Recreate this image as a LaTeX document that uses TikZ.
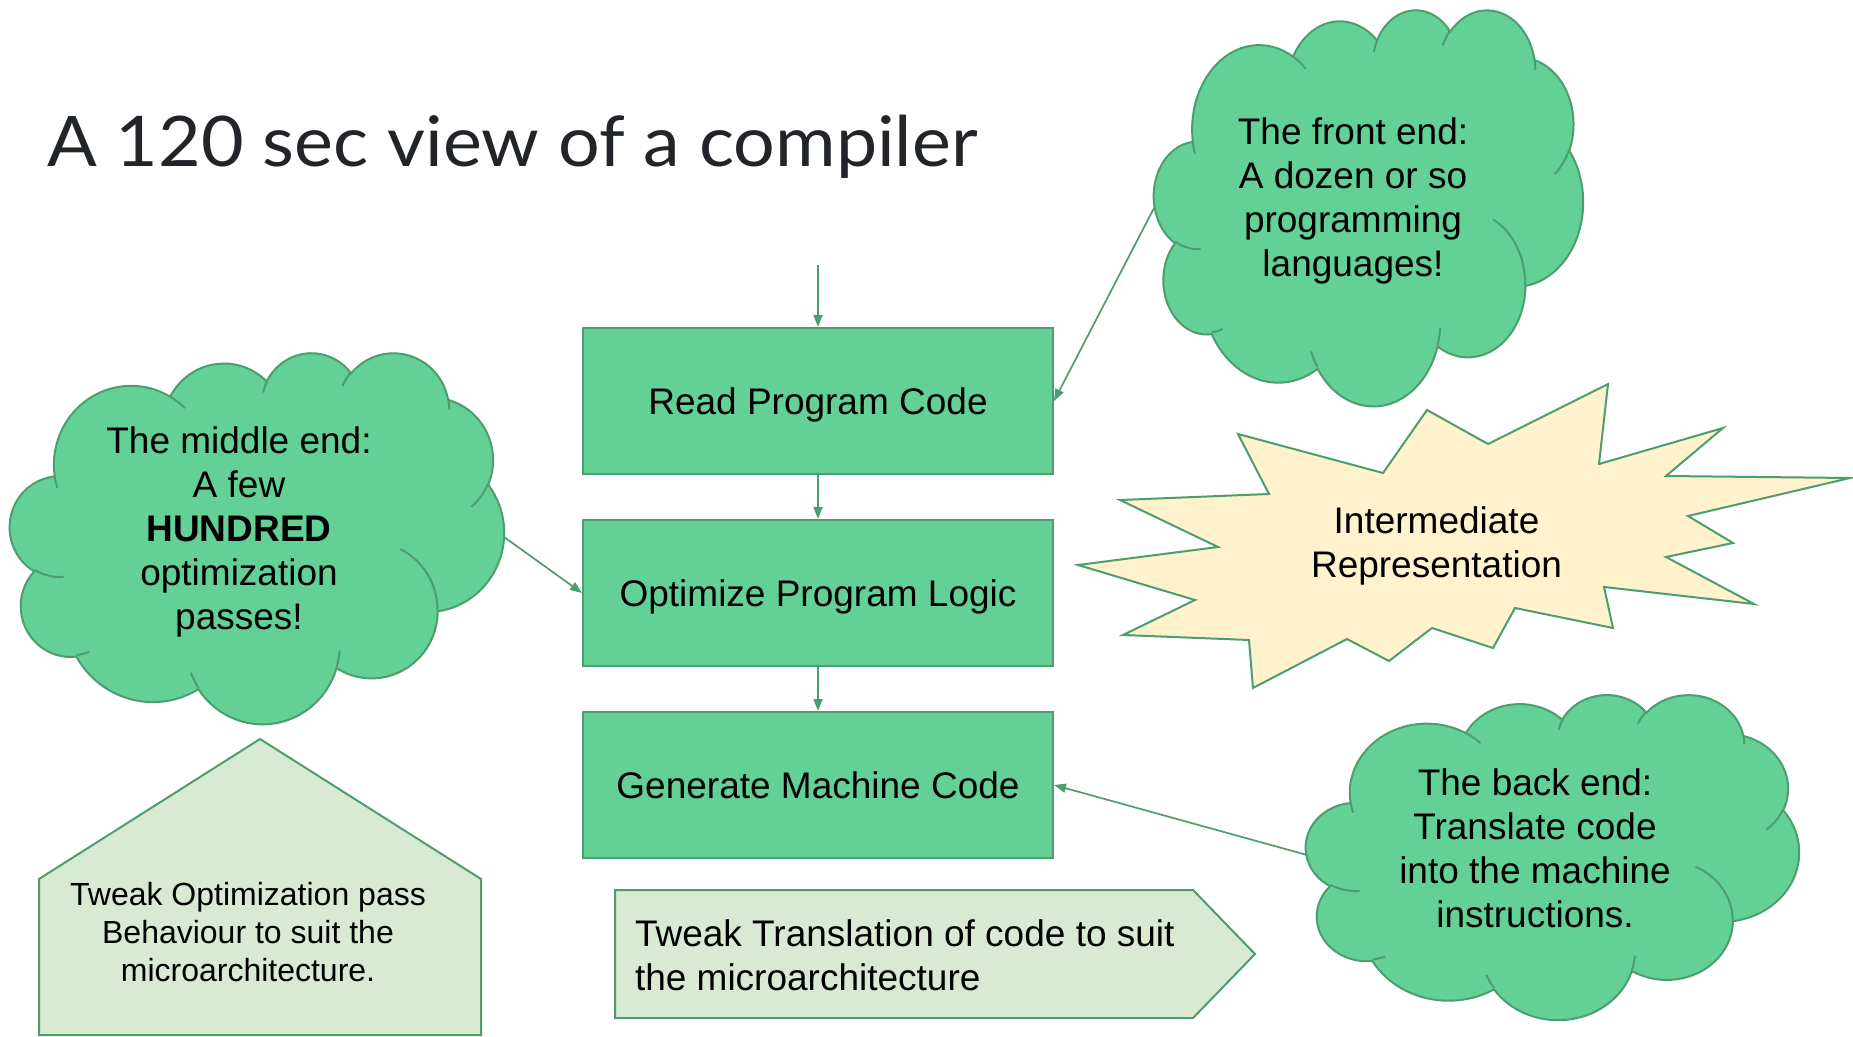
\documentclass[tikz,border=0pt]{standalone}
\usepackage{fontspec}
\setmainfont{Liberation Sans}
\newfontfamily\titlefont{Lato}[FakeStretch=1.054]
\usetikzlibrary{arrows.meta}

\definecolor{leafgreen}{RGB}{99,209,150}
\definecolor{edgegreen}{RGB}{76,158,110}
\definecolor{palegreen}{RGB}{217,234,211}
\definecolor{paleyellow}{RGB}{255,242,204}
\definecolor{titleink}{RGB}{33,37,41}

% One elliptical arc of a cloud outline. Start and sweep are direction
% angles; they are turned into the parametric angles that arc expects.
\newcommand\cloudarc[4]{arc[x radius=#1, y radius=#2,
  start angle={atan2(#1*sin(#3),#2*cos(#3))},
  delta angle={Mod(atan2(#1*sin(#3+#4),#2*cos(#3+#4))-atan2(#1*sin(#3),#2*cos(#3)),360)}]}

% Cloud in a 432 x 432 frame, placed at (#1,#2) with width #3 and height #4
\newcommand\drawcloud[4]{%
  \begin{scope}[shift={(#1,#2)}, xscale=#3/432, yscale=#4/432]
    \filldraw[cloudshape] (39.00,143.70)
      \cloudarc{67.53}{91.90}{-190.487}{123.781}
      \cloudarc{53.33}{72.67}{-144.102}{89.945}
      \cloudarc{43.65}{59.45}{-145.808}{99.723}
      \cloudarc{48.57}{65.95}{-130.986}{117.242}
      \cloudarc{53.33}{72.73}{-78.709}{109.027}
      \cloudarc{67.75}{92.20}{-46.267}{130.269}
      \cloudarc{57.85}{78.67}{0.625}{114.033}
      \cloudarc{67.52}{92.15}{22.452}{115.173}
      \cloudarc{77.20}{105.43}{66.243}{75.711}
      \cloudarc{43.60}{59.18}{-274.942}{146.736}
      \cloudarc{43.45}{59.45}{-246.829}{152.519} -- cycle;
    \draw[cloudcrease]
      (46.93,261.77) \cloudarc{43.45}{59.45}{86.742}{26.430}
      (69.28,348.99) \cloudarc{43.60}{59.18}{73.610}{11.447}
      (164.78,390.90) \cloudarc{67.52}{92.15}{137.624}{14.081}
      (288.27,347.51) \cloudarc{67.52}{92.15}{6.453}{15.998}
      (341.29,229.54) \cloudarc{57.85}{78.67}{-70.292}{70.917}
      (417.98,153.54) \cloudarc{53.33}{72.73}{30.318}{27.752}
      (383.24,54.26) \cloudarc{48.57}{65.95}{-13.744}{14.859}
      (290.78,39.52) \cloudarc{48.57}{65.95}{-149.181}{18.195}
      (221.41,47.20) \cloudarc{43.65}{59.45}{-163.494}{17.686}
      (140.00,51.92) \cloudarc{67.53}{91.90}{-66.707}{12.319}
      (41.27,157.89) \cloudarc{67.53}{91.90}{157.654}{11.858};
  \end{scope}}

\tikzset{
  bodytext/.style={font=\fontsize{18.5}{22}\selectfont, text=black, inner sep=0pt},
  stagebox/.style={bodytext, draw=edgegreen, fill=leafgreen, line width=1pt,
    minimum width=235pt, minimum height=73pt, text height=13.25pt, text depth=0pt},
  cloudshape/.style={draw=edgegreen, fill=leafgreen, line width=1pt},
  cloudcrease/.style={draw=edgegreen, line width=1pt},
  cloudtext/.style={bodytext, align=center},
  paleshape/.style={draw=edgegreen, fill=palegreen, line width=1pt},
  burstshape/.style={draw=edgegreen, fill=paleyellow, line width=1pt, line join=miter},
  flow/.style={draw=edgegreen, line width=0.85pt, -{Triangle[length=6pt,width=4.5pt]}}
}

\begin{document}
\begin{tikzpicture}[x=0.5pt, y=-0.5pt]
  \useasboundingbox (0,0) rectangle (1853,1037);
  \fill[white] (0,0) rectangle (1853,1037);

  % title
  \node[anchor=base west, inner sep=0pt, text=titleink,
        font=\titlefont\fontsize{34.9}{40}\selectfont] (title) at (47,166.7)
        {A 120 sec view of a compiler};

  % the three stages
  \node[stagebox] (read)     at (818,401) {Read Program Code};
  \node[stagebox] (optimize) at (818,593) {Optimize Program Logic};
  \node[stagebox] (generate) at (818,785) {Generate Machine Code};

  % clouds
  \drawcloud{1154}{9}{429}{396}
  \node[cloudtext] (frontText) at (1353,200.5)
    {The front end:\\A dozen or so\\programming\\languages!};
  \drawcloud{10}{352}{494}{371}
  \node[cloudtext] (middleText) at (239,531.5)
    {The middle end:\\A few\\\textbf{HUNDRED}\\optimization\\passes!};
  \drawcloud{1306}{694}{493}{325}
  \node[cloudtext] (backText) at (1535,848.5)
    {The back end:\\Translate code\\into the machine\\instructions.};

  % intermediate representation burst
  \filldraw[burstshape] (1238,434) -- (1383,473) -- (1427,410) -- (1488,444)
    -- (1608,384) -- (1599,464) -- (1723,428) -- (1666,476) -- (1850,478)
    -- (1688,516) -- (1733,543) -- (1666,557) -- (1754,604) -- (1604,587)
    -- (1613,628) -- (1515,608) -- (1493,648) -- (1432,628) -- (1389,661)
    -- (1347,639) -- (1253,688) -- (1249,640) -- (1123,635) -- (1195,600)
    -- (1078,565) -- (1218,547) -- (1120,500) -- (1269,494) -- cycle;
  \node[cloudtext] (irText) at (1436.5,546) {Intermediate\\Representation};

  % tuning notes
  \filldraw[paleshape] (39,879) -- (260,739) -- (481,879) -- (481,1035)
    -- (39,1035) -- cycle;
  \node[bodytext, align=center, font=\fontsize{16}{19}\selectfont]
    (passNote) at (248,931.6)
    {Tweak Optimization pass\\Behaviour to suit the\\microarchitecture.};
  \filldraw[paleshape] (615,890) -- (1193,890) -- (1255,954) -- (1193,1018)
    -- (615,1018) -- cycle;
  \node[bodytext, align=left, anchor=west] (codeNote) at (634.6,955)
    {Tweak Translation of code to suit\\the microarchitecture};

  % connectors
  \coordinate (entry) at (818,265);
  \coordinate (frontTail) at (1154,208);
  \coordinate (middleTail) at (504,537);
  \coordinate (backTail) at (1307,855);
  \draw[flow] (entry) -- (read.north);
  \draw[flow] (read.south) -- (optimize.north);
  \draw[flow] (optimize.south) -- (generate.north);
  \draw[flow] (frontTail) -- (read.east);
  \draw[flow] (middleTail) -- (optimize.west);
  \draw[flow] (backTail) -- (generate.east);
\end{tikzpicture}
\end{document}
